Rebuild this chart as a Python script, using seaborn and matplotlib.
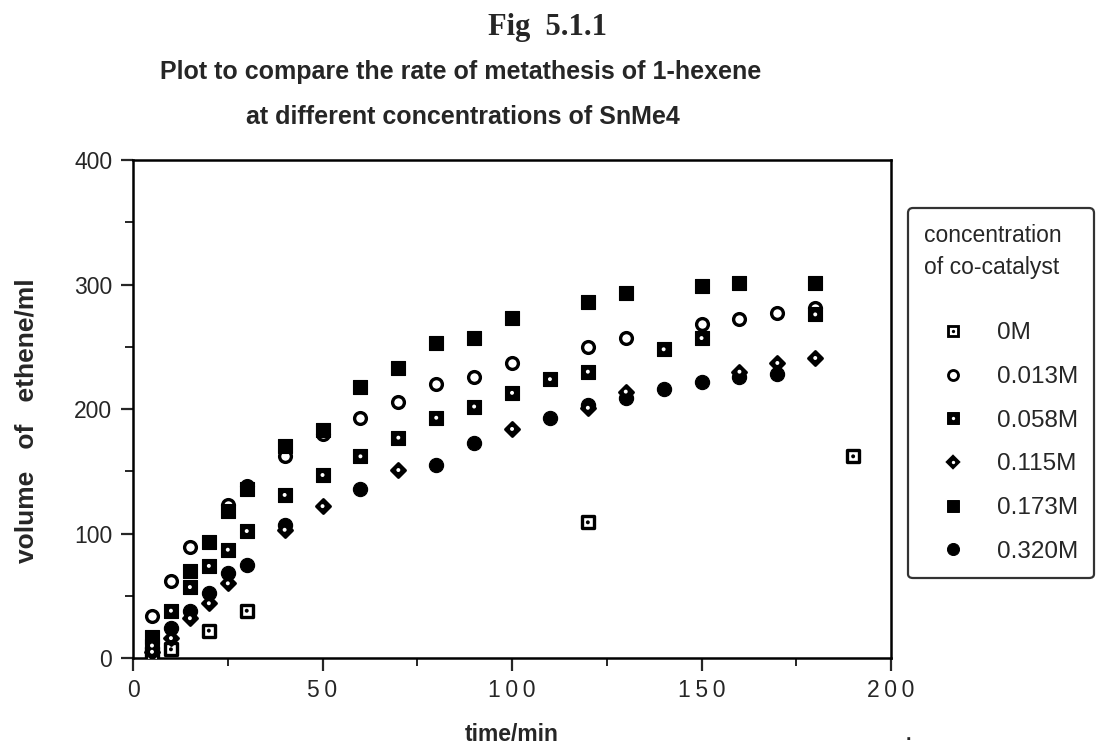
#!/usr/bin/env python3
"""
Fig 5.1.1 - ethene evolved vs time for 1-hexene metathesis,
one series per SnMe4 co-catalyst concentration.
"""
import matplotlib
matplotlib.use("Agg")
import matplotlib.pyplot as plt
import pandas as pd
import seaborn as sns
from matplotlib.legend_handler import HandlerTuple
from matplotlib.lines import Line2D
from matplotlib.ticker import FixedFormatter, FixedLocator, MultipleLocator

# --- data (time/min, volume/ml) ---
t_0M = [5, 10, 20, 30, 120, 190]
v_0M = [2, 7, 22, 38, 109, 162]

t_013 = [5, 10, 15, 25, 30, 40, 50, 60, 70, 80, 90, 100, 120, 130, 150, 160, 170, 180]
v_013 = [34, 62, 89, 123, 138, 162, 180, 193, 206, 220, 226, 237, 250, 257, 268, 272, 277, 281]

t_058 = [5, 10, 15, 20, 25, 30, 40, 50, 60, 70, 80, 90, 100, 110, 120, 140, 150, 180]
v_058 = [10, 38, 57, 74, 87, 102, 131, 147, 162, 177, 193, 202, 213, 224, 230, 248, 257, 276]

t_115 = [5, 10, 15, 20, 25, 40, 50, 70, 100, 120, 130, 160, 170, 180]
v_115 = [5, 16, 32, 44, 60, 103, 122, 151, 184, 201, 214, 230, 237, 241]

t_173 = [5, 15, 20, 25, 30, 40, 50, 60, 70, 80, 90, 100, 120, 130, 150, 160, 180]
v_173 = [17, 70, 93, 118, 136, 170, 183, 218, 233, 253, 257, 273, 286, 293, 299, 301, 301]

t_320 = [5, 10, 15, 20, 25, 30, 40, 60, 80, 90, 110, 120, 130, 140, 150, 160, 170]
v_320 = [8, 24, 38, 52, 68, 75, 107, 136, 155, 173, 193, 203, 209, 216, 222, 226, 228]

series_labels = ["0M", "0.013M", "0.058M", "0.115M", "0.173M", "0.320M"]
series_t = [t_0M, t_013, t_058, t_115, t_173, t_320]
series_v = [v_0M, v_013, v_058, v_115, v_173, v_320]

x_ticks = [0, 50, 100, 150, 200]
x_tick_labels = ["0", "5\u20090", "1\u20090\u20090", "1\u20095\u20090", "2\u20090\u20090"]
y_ticks = [0, 100, 200, 300, 400]

# marker look per series: (marker, size, face, edge, edge width, centre dot colour)
styles = {
    "0M":     ("s", 78, "white", "black", 2.4, "black"),
    "0.013M": ("o", 72, "white", "black", 2.4, None),
    "0.058M": ("s", 100, "black", "black", 0.8, "white"),
    "0.115M": ("D", 52, "black", "black", 2.0, "white"),
    "0.173M": ("s", 110, "black", "black", 0.8, None),
    "0.320M": ("o", 105, "black", "black", 0.8, None),
}

df = pd.concat(
    [pd.DataFrame({"time": t, "volume": v, "conc": lab})
     for lab, t, v in zip(series_labels, series_t, series_v)],
    ignore_index=True,
)

sns.set_style("ticks")
plt.rcParams["font.family"] = ["Liberation Sans", "DejaVu Sans"]

fig = plt.figure(figsize=(11.04, 7.51), dpi=100)
ax = fig.add_axes([0.1205, 0.1238, 0.6866, 0.6631])

for lab in series_labels:
    mk, s, fc, ec, lw, dot = styles[lab]
    sub = df[df["conc"] == lab]
    sns.scatterplot(data=sub, x="time", y="volume", ax=ax, marker=mk, s=s,
                    color=fc, edgecolor=ec, linewidth=lw, legend=False, zorder=3)
    if dot is not None:
        sns.scatterplot(data=sub, x="time", y="volume", ax=ax, marker="o", s=8,
                        color=dot, edgecolor="none", linewidth=0, legend=False, zorder=4)

ax.set_xlim(0, 200)
ax.set_ylim(0, 400)
ax.xaxis.set_major_locator(FixedLocator(x_ticks))
ax.xaxis.set_major_formatter(FixedFormatter(x_tick_labels))
ax.xaxis.set_minor_locator(MultipleLocator(25))
ax.yaxis.set_major_locator(FixedLocator(y_ticks))
ax.yaxis.set_minor_locator(MultipleLocator(50))
ax.tick_params(which="major", direction="out", length=9, width=1.6, labelsize=16.5, pad=6)
ax.tick_params(which="minor", direction="out", length=6, width=1.4)
for sp in ax.spines.values():
    sp.set_visible(True)
    sp.set_linewidth(1.8)
    sp.set_color("black")

ax.set_xlabel("time/min", fontsize=16.5, fontweight="bold")
ax.xaxis.set_label_coords(0.5, -0.13)
ax.set_ylabel("volume   of   ethene/ml", fontsize=19, fontweight="bold")
ax.yaxis.set_label_coords(-0.125, 0.476)

fig.text(0.496, 0.964, "Fig  5.1.1", ha="center", va="center", fontsize=22,
         fontweight="bold", family=["Liberation Serif", "DejaVu Serif"])
fig.text(0.417, 0.904, "Plot to compare the rate of metathesis of 1-hexene",
         ha="center", va="center", fontsize=18, fontweight="bold")
fig.text(0.419, 0.844, "at different concentrations of SnMe4",
         ha="center", va="center", fontsize=18, fontweight="bold")
fig.text(0.82, 0.015, ".", fontsize=14, fontweight="bold")

# legend with composite markers (square/diamond with centre dot)
handles = []
for lab in series_labels:
    mk, s, fc, ec, lw, dot = styles[lab]
    base = Line2D([], [], linestyle="none", marker=mk, markersize=s ** 0.5 * 0.85,
                  markerfacecolor=fc, markeredgecolor=ec, markeredgewidth=lw * 0.85)
    if dot is not None:
        handles.append((base, Line2D([], [], linestyle="none", marker="o", markersize=2.4,
                                     markerfacecolor=dot, markeredgecolor="none")))
    else:
        handles.append(base)

leg = fig.legend(handles, series_labels, loc="upper left",
                 bbox_to_anchor=(0.8225, 0.723), bbox_transform=fig.transFigure,
                 title="concentration\nof co-catalyst", title_fontsize=16.5,
                 fontsize=17.5, alignment="left", frameon=True, fancybox=True,
                 handler_map={tuple: HandlerTuple(ndivide=1, pad=0)},
                 handlelength=2.4, handletextpad=0.6, borderpad=0.65,
                 labelspacing=0.89, borderaxespad=0)
leg.get_frame().set_edgecolor("black")
leg.get_frame().set_linewidth(1.6)
leg.get_title().set_linespacing(1.53)
# extra gap between the title block and the entries
leg._legend_box.sep = 31

fig.savefig("out.png", dpi=100)
